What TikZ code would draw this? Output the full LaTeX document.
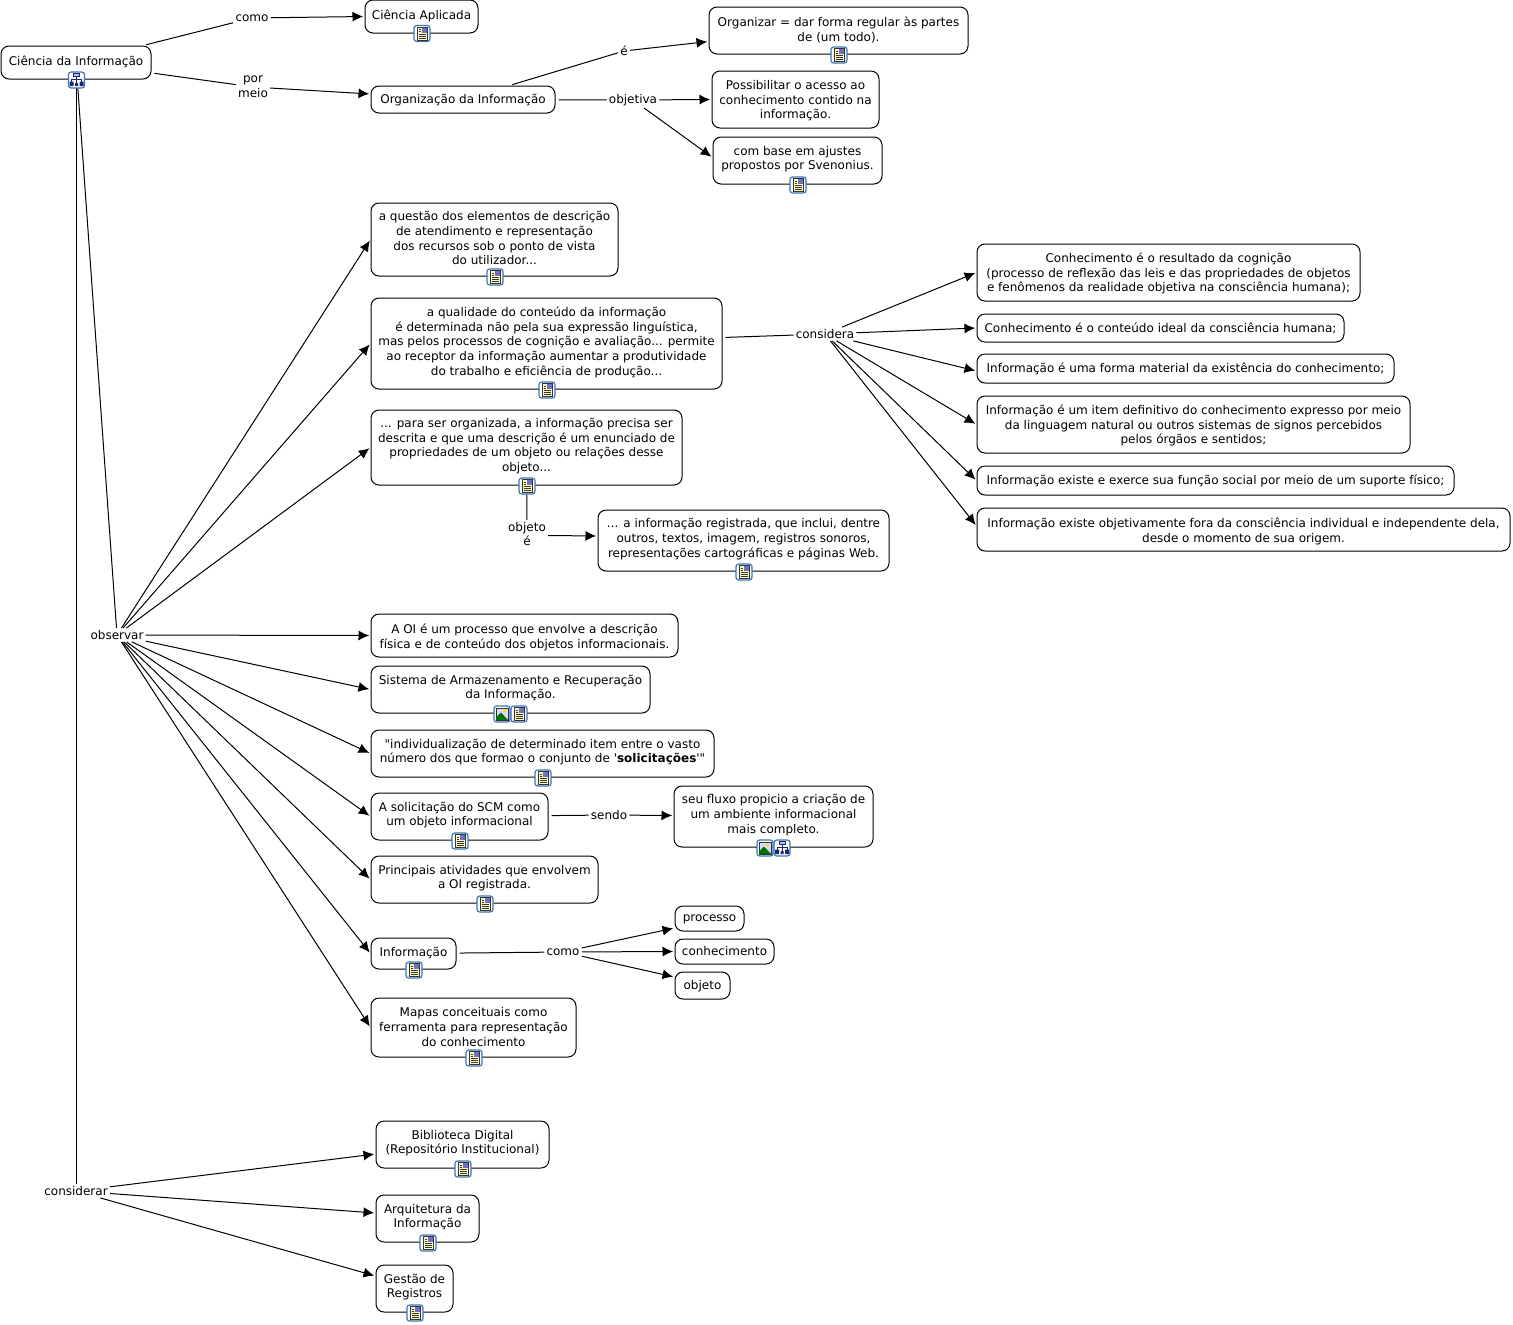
\documentclass[tikz,border=0pt]{standalone}
\usepackage{fontspec}
\setmainfont{DejaVu Sans}
\newfontfamily\quotefont{DejaVu Sans}
\usetikzlibrary{calc,arrows.meta}
\definecolor{iconblue}{RGB}{58,118,180}
\definecolor{icondark}{RGB}{30,40,110}
\newcommand{\lowertext}[1]{\rule{0pt}{#1}}
\tikzset{ icon_frame/.style = { rounded corners=2pt % around every icon
, fill = white
, draw = iconblue
, line width = 0.9pt
}
, icon_line/.style = { draw = black!80
, line width = 0.4pt
}
, doc_icon/.pic = { \draw [icon_frame] (-8,-8) rectangle (8,8);
  \draw [icon_line,fill=yellow!25] (-5,-6.5) rectangle (5.5,6.5);
  \fill [blue!40!gray!80] (0,-5.8) rectangle (4.8,-1);
  \draw [icon_line] (-3.5,-4) -- (-1,-4) (-3.5,-2) -- (-1,-2) (-3.5,0.5) -- (3.5,0.5) (-3.5,2.5) -- (3.5,2.5) (-3.5,4.5) -- (3.5,4.5);
}
, map_icon/.pic = { \draw [icon_frame] (-8,-8) rectangle (8,8);
  \draw [icondark,line width=0.5pt] (0,-3.5) -- (0,3) (-5,1.5) -- (-5,-0.5) -- (5,-0.5) -- (5,1.5);
  \draw [icondark,fill=blue!25,line width=0.5pt] (-3,-7) rectangle (3,-3.5);
  \fill [icondark] (-7,1.5) rectangle (-3,6) (-1.5,3) rectangle (1.5,6) (3,1.5) rectangle (7,6);
}
, img_icon/.pic = { \draw [icon_frame] (-8,-8) rectangle (8,8);
  \draw [icon_line,fill=blue!15] (-6,-6) rectangle (6,6);
  \fill [yellow!80!orange] (2.5,-3) circle (1.8);
  \fill [green!45!black] (-5.8,5.8) -- (-5.8,3) -- (-1,-1.5) -- (5.8,5.8) -- cycle;
}
}

\begin{document}
\begin{tikzpicture}[x=0.75pt, y=-0.75pt,
        node_style/.style={draw=black, line width=0.75pt, rounded corners=6pt, inner sep=0pt, align=center, font=\fontsize{9}{11}\selectfont, execute at begin node={\rule{0pt}{9pt}}, execute at end node={\rule[-2.7pt]{0pt}{1pt}}},
        size/.style 2 args={minimum width=#1*0.75pt, minimum height=#2*0.75pt},
        icon_above/.style={execute at end node={\rule[-3.8pt]{0pt}{1pt}}},
        label_style/.style={inner sep=1.5pt, align=center, font=\fontsize{9}{11}\selectfont},
        line_style/.style={draw=black, line width=0.75pt, shorten <=2.25pt},
        edge_style/.style={draw=black, line width=0.75pt, shorten >=1pt, -{Latex[length=8pt,width=7.5pt]}}]
        \useasboundingbox (0,0) rectangle (1513,1324);

            \node [node_style,icon_above,size={150}{33}](root) at (76,62.5) {Ciência da Informação};
            \node [node_style,icon_above,size={113}{33}](aplic) at (421.5,16.5) {Ciência Aplicada};
            \node [node_style,size={184}{27}](orgi) at (463,99.5) {Organização da Informação};
            \node [node_style,icon_above,size={259}{47}](organ) at (838.5,30.5) {\lowertext{9pt}Organizar = dar forma regular às partes\\de (um todo).};
            \node [node_style,size={167}{57}](poss) at (795.5,99.5) {\lowertext{9.5pt}Possibilitar o acesso ao\\conhecimento contido na\\informação.};
            \node [node_style,icon_above,size={169}{47}](sven) at (797.5,160.5) {com base em ajustes\\propostos por Svenonius.};
            \node [node_style,icon_above,size={247}{73}](q1) at (494.5,239.5) {\lowertext{9pt}a questão dos elementos de descrição\\de atendimento e representação\\dos recursos sob o ponto de vista\\do utilizador...};
            \node [node_style,icon_above,size={351}{91}](q2) at (546.5,343.5) {a qualidade do conteúdo da informação\\é determinada não pela sua expressão linguística,\\mas pelos processos de cognição e avaliação... permite\\ao receptor da informação aumentar a produtividade\\do trabalho e eficiência de produção...};
            \node [node_style,icon_above,size={311}{75}](q3) at (526.5,447.5) {... para ser organizada, a informação precisa ser\\descrita e que uma descrição é um enunciado de\\propriedades de um objeto ou relações desse\\objeto...};
            \node [node_style,icon_above,size={291}{61}](desc) at (743.5,540.5) {... a informação registrada, que inclui, dentre\\outros, textos, imagem, registros sonoros,\\representações cartográficas e páginas Web.};
            \node [node_style,size={383}{57}](c1) at (1168.5,272.5) {\lowertext{9.5pt}Conhecimento é o resultado da cognição\\(processo de reflexão das leis e das propriedades de objetos\\e fenômenos da realidade objetiva na consciência humana);};
            \node [node_style,size={367}{28}](c2) at (1160.5,328) {Conhecimento é o conteúdo ideal da consciência humana;};
            \node [node_style,size={417}{29}](c3) at (1185.5,368.5) {Informação é uma forma material da existência do conhecimento;};
            \node [node_style,size={433}{57}](c4) at (1193.5,424.5) {\lowertext{9.5pt}Informação é um item definitivo do conhecimento expresso por meio\\da linguagem natural ou outros sistemas de signos percebidos\\pelos órgãos e sentidos;};
            \node [node_style,size={477}{29}](c5) at (1215.5,480.5) {Informação existe e exerce sua função social por meio de um suporte físico;};
            \node [node_style,size={533}{43}](c6) at (1243.5,529.5) {\lowertext{10.5pt}Informação existe objetivamente fora da consciência individual e independente dela,\\desde o momento de sua origem.};
            \node [node_style,size={307}{43}](a1) at (524.5,635.5) {\lowertext{10.5pt}A OI é um processo que envolve a descrição\\física e de conteúdo dos objetos informacionais.};
            \node [node_style,icon_above,size={279}{47}](a2) at (510.5,689.5) {Sistema de Armazenamento e Recuperação\\da Informação.};
            \node [node_style,icon_above,size={343}{47}](a3) at (542.5,753.5) {{\quotefont"}individualização de determinado item entre o vasto\\número dos que formao o conjunto de {\quotefont'}\textbf{solicitações}{\quotefont'"}};
            \node [node_style,icon_above,size={177}{47}](a4) at (459.5,816.5) {A solicitação do SCM como\\um objeto informacional};
            \node [node_style,icon_above,size={199}{61}](fluxo) at (773.5,816.5) {seu fluxo propicio a criação de\\um ambiente informacional\\mais completo.};
            \node [node_style,icon_above,size={227}{47}](a5) at (484.5,879.5) {Principais atividades que envolvem\\a OI registrada.};
            \node [node_style,icon_above,size={85}{31}](a6) at (413.5,953.5) {Informação};
            \node [node_style,icon_above,size={69}{25}](proc) at (709.5,918.5) {processo};
            \node [node_style,size={99}{25}](conh) at (724.5,951.5) {conhecimento};
            \node [node_style,size={55}{27}](obje) at (702.5,985.5) {objeto};
            \node [node_style,icon_above,size={205}{59}](a7) at (473.5,1027.5) {\lowertext{9.7pt}Mapas conceituais como\\ferramenta para representação\\do conhecimento};
            \node [node_style,icon_above,size={173}{47}](b1) at (462.5,1144.5) {Biblioteca Digital\\(Repositório Institucional)};
            \node [node_style,icon_above,size={103}{47}](b2) at (427.5,1218.5) {Arquitetura da\\Informação};
            \node [node_style,icon_above,size={77}{47}](b3) at (414.5,1288.5) {Gestão de\\Registros};

            \node [label_style](l1) at (252,18) {como};
            \node [label_style](l2) at (253,87) {por\\meio};
            \node [label_style](l3) at (624,51) {é};
            \node [label_style](l4) at (633,100) {objetiva};
            \node [label_style](l5) at (825,334) {considera};
            \node [label_style](l6) at (527,534) {objeto\\é};
            \node [label_style](l7) at (117,635) {observar};
            \node [label_style](l8) at (609,815) {sendo};
            \node [label_style](l9) at (563,952) {como};
            \node [label_style](l10) at (76,1191) {considerar};

            \draw [line_style] (root) -- (l1);
            \draw [edge_style] (l1) -- (aplic.west);
            \draw [line_style] (root) -- (l2);
            \draw [edge_style] (l2) -- ($(orgi.west)+(0,-5.5)$);
            \draw [line_style] (orgi) -- (l3);
            \draw [edge_style] (l3) -- ($(organ.west)+(0,11)$);
            \draw [line_style] (orgi) -- (l4);
            \draw [edge_style] (l4) -- (poss.west);
            \draw [edge_style] (l4) -- ($(sven.west)+(0,-3)$);
            \draw [line_style] (root) -- (l7);
            \draw [line_style] (root) -- (l10);
            \draw [edge_style] (l7) -- (q1.west);
            \draw [edge_style] (l7) -- (q2.west);
            \draw [edge_style] (l7) -- (q3.west);
            \draw [edge_style] (l7) -- (a1.west);
            \draw [edge_style] (l7) -- (a2.west);
            \draw [edge_style] (l7) -- (a3.west);
            \draw [edge_style] (l7) -- (a4.west);
            \draw [edge_style] (l7) -- (a5.west);
            \draw [edge_style] (l7) -- (a6.west);
            \draw [edge_style] (l7) -- (a7.west);
            \draw [line_style] (q2) -- (l5);
            \draw [edge_style] (l5) -- (c1.west);
            \draw [edge_style] (l5) -- (c2.west);
            \draw [edge_style] (l5) -- ($(c3.west)+(0,2.5)$);
            \draw [edge_style] (l5) -- (c4.west);
            \draw [edge_style] (l5) -- (c5.west);
            \draw [edge_style] (l5) -- ($(c6.west)+(0,-3.5)$);
            \draw [line_style] (q3) -- (l6);
            \draw [edge_style] ($(l6.east)+(0,1.5)$) -- ($(desc.west)+(0,-4.5)$);
            \draw [line_style] (a4) -- (l8);
            \draw [edge_style] (l8) -- ($(fluxo.west)+(0,-1)$);
            \draw [line_style] (a6) -- (l9);
            \draw [edge_style] (l9) -- ($(proc.west)+(0,9.5)$);
            \draw [edge_style] (l9) -- (conh.west);
            \draw [edge_style] (l9) -- ($(obje.west)+(0,-8.5)$);
            \draw [edge_style] (l10) -- ($(b1.west)+(0,9.5)$);
            \draw [edge_style] (l10) -- ($(b2.west)+(0,-5.5)$);
            \draw [edge_style] (l10) -- ($(b3.west)+(0,-12.5)$);

            \pic at (76.5,80) {map_icon};
            \pic at (422,33.5) {doc_icon};
            \pic at (839,55) {doc_icon};
            \pic at (798,185) {doc_icon};
            \pic at (495,277) {doc_icon};
            \pic at (547,390) {doc_icon};
            \pic at (527,486) {doc_icon};
            \pic at (744,572) {doc_icon};
            \pic at (502,714) {img_icon};
            \pic at (519,714) {doc_icon};
            \pic at (543,778) {doc_icon};
            \pic at (460,841) {doc_icon};
            \pic at (765,848) {img_icon};
            \pic at (782,848) {map_icon};
            \pic at (485,904) {doc_icon};
            \pic at (414,970) {doc_icon};
            \pic at (474,1058) {doc_icon};
            \pic at (463,1169) {doc_icon};
            \pic at (428,1243) {doc_icon};
            \pic at (415,1313) {doc_icon};
        \end{tikzpicture}
\end{document}
